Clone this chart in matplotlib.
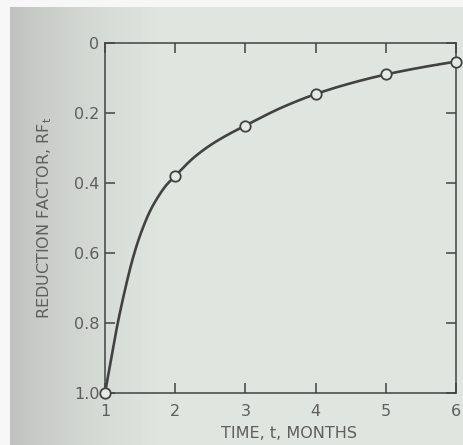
import numpy as np
import matplotlib
matplotlib.use("Agg")
import matplotlib.pyplot as plt

# measured points (open circles)
months = [1, 2, 3, 4, 5, 6]
rf = [1.0, 0.38, 0.236, 0.146, 0.09, 0.053]

# curve
curve_t = [1.0, 1.085, 1.17, 1.27, 1.39, 1.47, 1.54, 1.63, 1.73, 1.87, 2.0,
           2.25, 2.5, 2.75, 3.0, 3.5, 4.0, 4.5, 5.0, 5.5, 6.0]
curve_rf = [1.0, 0.905, 0.812, 0.718, 0.62, 0.567, 0.528, 0.485, 0.448, 0.407, 0.38,
            0.33, 0.292, 0.262, 0.236, 0.186, 0.146, 0.115, 0.09, 0.07, 0.053]

xticks = [1, 2, 3, 4, 5, 6]
yticks = [0, 0.2, 0.4, 0.6, 0.8, 1.0]
ylabels = ["0", "0.2", "0.4", "0.6", "0.8", "1.0"]

ink = "#424242"
txt = "#5e5e5e"
paper = "#dfe7df"


def smooth(x, y, n=16):
    # monotone cubic (pchip) just to draw the traced line without kinks
    x = np.asarray(x, float)
    y = np.asarray(y, float)
    h = np.diff(x)
    d = np.diff(y) / h
    m = np.zeros_like(y)
    for i in range(1, len(x) - 1):
        if d[i - 1] * d[i] > 0:
            w1 = 2 * h[i] + h[i - 1]
            w2 = h[i] + 2 * h[i - 1]
            m[i] = (w1 + w2) / (w1 / d[i - 1] + w2 / d[i])
    m[0], m[-1] = d[0], d[-1]
    xs, ys = [], []
    for i in range(len(x) - 1):
        s = np.linspace(0, 1, n, endpoint=False)
        h00 = 2 * s**3 - 3 * s**2 + 1
        h10 = s**3 - 2 * s**2 + s
        h01 = -2 * s**3 + 3 * s**2
        h11 = s**3 - s**2
        xs.append(x[i] + s * h[i])
        ys.append(h00 * y[i] + h10 * h[i] * m[i] + h01 * y[i + 1] + h11 * h[i] * m[i + 1])
    xs.append([x[-1]])
    ys.append([y[-1]])
    return np.concatenate(xs), np.concatenate(ys)


fig = plt.figure(figsize=(4.64, 4.45), dpi=100, facecolor=paper)

# photo-ish background: grey shading on the left, white margin top/left
bg = fig.add_axes([0, 0, 1, 1], zorder=-10)
bg.set_axis_off()
grad = np.linspace(0, 1, 464)
c0 = np.array([0.72, 0.72, 0.72])
c1 = np.array([0.875, 0.905, 0.875])
w = np.clip(grad / 0.35, 0, 1) ** 0.6
img = (c0[None, :] * (1 - w[:, None]) + c1[None, :] * w[:, None])[None, :, :]
img = np.repeat(img, 445, axis=0)
img[:7, :, :] = 0.97
img[:, :10, :] = 0.97
bg.imshow(img, aspect="auto", extent=[0, 1, 0, 1])
bg.set_xlim(0, 1)
bg.set_ylim(0, 1)

ax = fig.add_axes([0.2263, 0.1169, 0.7565, 0.7865])
ax.set_facecolor("none")

sx, sy = smooth(curve_t, curve_rf)
ax.plot(sx, sy, color=ink, lw=1.9, solid_capstyle="round", zorder=3)
ax.plot(months, rf, "o", ms=7.5, mfc="#e4ebe4", mec=ink, mew=1.3, zorder=4,
        clip_on=False)

ax.set_xlim(1, 6)
ax.set_ylim(1.0, 0)

for s in ax.spines.values():
    s.set_color(ink)
    s.set_linewidth(1.1)

ax.set_xticks(xticks)
ax.set_yticks(yticks)
ax.set_yticklabels(ylabels)
ax.tick_params(direction="in", length=7.2, width=1.1, color=ink,
               top=True, right=True, labelsize=11.5, labelcolor=txt)
ax.tick_params(axis="x", pad=8)
ax.tick_params(axis="y", pad=4)

ax.set_xlabel("TIME, t, MONTHS", fontsize=11.5, color=txt)
ax.xaxis.set_label_coords(0.525, -0.095)
ax.set_ylabel(r"REDUCTION FACTOR, RF$_\mathrm{t}$", fontsize=11.5, color=txt)
ax.yaxis.set_label_coords(-0.145, 0.5)

fig.savefig("out.png", dpi=100, facecolor=fig.get_facecolor())
